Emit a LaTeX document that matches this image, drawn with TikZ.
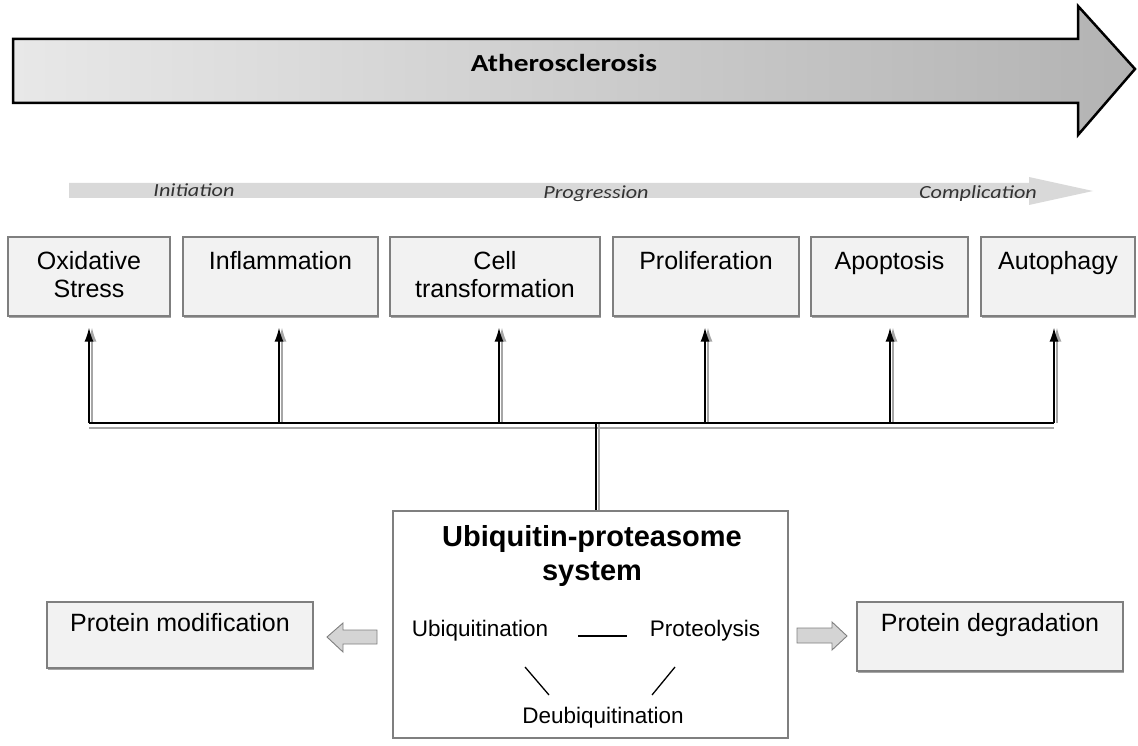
\documentclass[tikz,border=0pt]{standalone}
\usepackage{fontspec}
\setmainfont{Liberation Sans}
\newfontfamily\calib[FakeStretch=1.2]{Carlito}
\usetikzlibrary{arrows.meta,shadows}
\definecolor{boxfill}{HTML}{F2F2F2}
\definecolor{boxline}{HTML}{7F7F7F}
\definecolor{stagegray}{HTML}{D9D9D9}
\definecolor{sidegray}{HTML}{D4D4D4}
\definecolor{stagetext}{HTML}{333333}
\definecolor{shadowgray}{HTML}{A6A6A6}
\definecolor{bigL}{HTML}{E8E8E8}
\definecolor{bigR}{HTML}{B3B3B3}
\begin{document}
\begin{tikzpicture}[x=1pt,y=-1pt,
  stagebox/.style={draw=boxline,fill=boxfill,line width=1.2pt,inner sep=0pt,
     drop shadow={shadow xshift=0.6pt,shadow yshift=-1.6pt,fill=black,opacity=0.35}},
  boxtext/.style={anchor=north,align=center,inner sep=0pt,font=\fontsize{25}{28}\selectfont},
  stagelabel/.style={inner sep=0pt,text=stagetext,font=\calib\itshape\fontsize{18.5}{20}\selectfont},
  uptext/.style={anchor=base,inner sep=0pt,font=\fontsize{22.5}{26}\selectfont},
  uparrow/.style={line width=1.6pt,-{Latex[length=14pt,width=9pt]}},
  upshadow/.style={line width=1.4pt,draw=shadowgray,fill=shadowgray,-{Latex[length=14pt,width=9pt]}},
  sidearrow/.style={fill=sidegray,draw=boxline,line width=0.9pt,line join=miter}
]
\useasboundingbox (0,0) rectangle (1138,746);

% big arrow
\shade[left color=bigL,right color=bigR,draw=black,line width=2.5pt,line join=miter]
  (13,39) -- (1078,39) -- (1078,6) -- (1135,69) -- (1078,135) -- (1078,103) -- (13,103) -- cycle;
\node[inner sep=0pt,font=\calib\bfseries\fontsize{24.5}{26}\selectfont] (athero) at (564,63) {Atherosclerosis};

% stage arrow
\fill[stagegray] (69,183) -- (1029,183) -- (1029,177) -- (1093,191) -- (1029,205) -- (1029,198) -- (69,198) -- cycle;
\node[stagelabel] (init) at (194,190) {Initiation};
\node[stagelabel] (prog) at (596,194) {Progression};
\node[stagelabel] (compl) at (978,194) {Complication};

% stage boxes
\node[stagebox,minimum width=162,minimum height=79] (ox) at (89,276.5) {};
\node[stagebox,minimum width=195,minimum height=79] (inf) at (280.5,276.5) {};
\node[stagebox,minimum width=210,minimum height=79] (cell) at (495,276.5) {};
\node[stagebox,minimum width=186,minimum height=79] (prol) at (706,276.5) {};
\node[stagebox,minimum width=157,minimum height=79] (apo) at (889.5,276.5) {};
\node[stagebox,minimum width=154,minimum height=79] (auto) at (1058,276.5) {};
\node[boxtext] (oxt) at (89,251) {Oxidative\\Stress};
\node[boxtext] (inft) at (280.5,251) {Inflammation};
\node[boxtext] (cellt) at (495,251) {Cell\\transformation};
\node[boxtext] (prolt) at (706,251) {Proliferation};
\node[boxtext] (apot) at (889.5,251) {Apoptosis};
\node[boxtext] (autot) at (1058,251) {Autophagy};

% bar coordinates
\coordinate (b1) at (89,423);
\coordinate (b2) at (279,423);
\coordinate (b3) at (499,423);
\coordinate (b4) at (705,423);
\coordinate (b5) at (890,423);
\coordinate (b6) at (1054,423);
\coordinate (hub) at (596,423);

% UPS box
\node[draw=boxline,fill=white,line width=1.4pt,minimum width=395,minimum height=227,inner sep=0pt] (ups) at (590.5,624.5) {};
\node[anchor=north,align=center,inner sep=0pt,font=\bfseries\fontsize{29}{34}\selectfont] (upst) at (592,525) {Ubiquitin-proteasome\\system};
\node[uptext] (ubi) at (480,636) {Ubiquitination};
\node[uptext] (pro) at (705,636) {Proteolysis};
\node[uptext] (deub) at (603,723) {Deubiquitination};
\draw[line width=1.5pt,shorten <=30pt,shorten >=23pt] (ubi.base east) -- (pro.base west);
\draw[line width=1.3pt] (525,667) -- (549,695);
\draw[line width=1.3pt] (675,667) -- (652,695);

% shadows of connectors
\draw[line width=1.6pt,shadowgray] ([yshift=-5]b1) -- ([yshift=-5]b6);
\draw[line width=1.2pt,shadowgray] ([xshift=3]hub) -- ([xshift=3]hub |- ups.north);
\foreach \b/\t in {b1/ox,b2/inf,b3/cell,b4/prol,b5/apo,b6/auto}{
  \draw[upshadow,shorten >=11pt] ([xshift=3]\b) -- ([xshift=3]\b |- \t.south);
}
% connectors
\draw[line width=2pt] (b1) -- (b6);
\draw[line width=1.6pt] (hub) -- (hub |- ups.north);
\foreach \b/\t in {b1/ox,b2/inf,b3/cell,b4/prol,b5/apo,b6/auto}{
  \draw[uparrow,shorten >=11pt] (\b) -- (\b |- \t.south);
}

% side boxes
\node[stagebox,minimum width=266,minimum height=66] (pmod) at (180,635) {};
\node[boxtext] (pmodt) at (180,613) {Protein modification};
\node[stagebox,minimum width=266,minimum height=69] (pdeg) at (990,636.5) {};
\node[boxtext] (pdegt) at (990,613) {Protein degradation};

% block arrows
\draw[sidearrow] (377,630) -- (343,630) -- (343,623) -- (327,637) -- (343,652) -- (343,644) -- (377,644) -- cycle;
\draw[sidearrow] (797,628) -- (832,628) -- (832,622) -- (847,636) -- (832,650) -- (832,643) -- (797,643) -- cycle;
\end{tikzpicture}
\end{document}
